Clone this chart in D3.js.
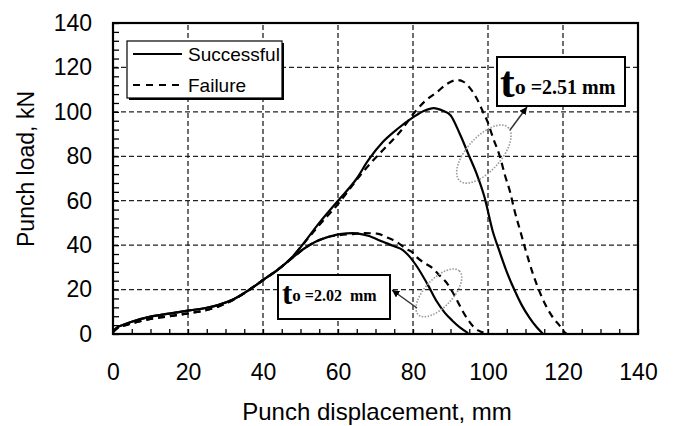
<!DOCTYPE html>
<html>
<head>
<meta charset="utf-8">
<script src="https://cdn.jsdelivr.net/npm/d3@7"></script>
<style>
  body { margin: 0; background: #fff; }
  svg { display: block; }
  .tick text { font-family: "Liberation Sans", Arial, sans-serif; }
</style>
</head>
<body>
<div id="chart"></div>
<script>
var width = 675;
var height = 426;

// tick labels
var xTicks = [0, 20, 40, 60, 80, 100, 120, 140];
var yTicks = [0, 20, 40, 60, 80, 100, 120, 140];

// series: [punch displacement (mm), punch load (kN)]
var success251 = [
  [0, 1], [1, 2.8], [3, 4.3], [5, 5.5], [10, 7.8], [15, 9.2], [20, 10.5], [25, 11.8],
  [28, 13], [32, 15.5], [36, 19.5], [40, 24.3], [44, 29], [48, 35], [50, 39], [55, 50],
  [60, 60], [65, 70], [68, 78], [72, 86.5], [76, 92.5], [80, 97.5], [83, 100.5],
  [85.5, 101.7], [88, 100.5], [90, 98.5], [92.5, 90], [95, 80], [97, 72], [99, 62],
  [101.3, 46], [103, 37.5], [105, 28], [107, 20], [109, 13], [111, 7.5], [113, 3], [114.7, 0]
];
var failure251 = [
  [0, 0.8], [1, 2.4], [3, 3.8], [5, 4.8], [10, 6.8], [15, 8], [20, 9.3], [25, 10.8],
  [28, 12.3], [32, 15.3], [36, 19.5], [40, 24.3], [44, 29], [48, 35], [50, 39], [55, 49],
  [60, 58.5], [63, 65], [66, 71.6], [69, 77.5], [72, 82.8], [76.5, 90.9], [80.5, 99.9],
  [83, 104.5], [86.4, 108.9], [89, 112.5], [91.7, 114.3], [93.5, 113.5], [95.2, 110.7],
  [97, 106], [98.4, 101], [100, 95], [101.3, 88.5], [103.2, 79.7], [104.5, 71.6],
  [105.9, 63.9], [107, 56], [108.5, 47], [110, 38], [112, 27], [114, 18], [116, 11],
  [117.5, 7], [119, 4], [120.3, 1], [121, 0]
];
var success202 = [
  [0, 1], [1, 2.8], [3, 4.3], [5, 5.5], [10, 7.8], [15, 9.2], [20, 10.5], [25, 11.8],
  [28, 13], [32, 15.5], [36, 19.5], [40, 24.3], [44, 29], [48, 34.5], [51, 38.5],
  [54, 41.5], [57, 43.5], [60.5, 45], [64, 45.4], [68, 44.2], [72, 41.5], [75, 39.5],
  [77.3, 37.8], [79.2, 34.6], [81, 30.5], [84, 22], [86.4, 14.5], [88.5, 9.5],
  [90.5, 6], [92.5, 3], [94.7, 0.4]
];
var failure202 = [
  [0, 0.8], [1, 2.4], [3, 3.8], [5, 4.8], [10, 6.8], [15, 8], [20, 9.3], [25, 10.8],
  [28, 12.3], [32, 15.3], [36, 19.5], [40, 24.3], [44, 29], [48, 34.5], [51, 38.5],
  [54, 41.5], [57, 43.5], [60.5, 44.5], [64, 45], [67, 45.4], [70.4, 45.2], [73, 43.5],
  [75.7, 41.4], [78, 38.5], [80, 36.5], [81, 34.6], [83, 32], [85.3, 29.5], [87, 26.5],
  [89, 23], [90.5, 19], [91.7, 15.3], [93, 11], [94.7, 6.3], [96, 3.5], [97.5, 1.5],
  [99.7, 0.3]
];

var legendLabels = ["Successful", "Failure"];

var margin = { top: 23, right: 37, bottom: 92, left: 113 };

var svg = d3.select("#chart")
  .append("svg")
  .attr("width", width)
  .attr("height", height);

var x = d3.scaleLinear().domain([0, 140]).range([margin.left, width - margin.right]);
var y = d3.scaleLinear().domain([0, 140]).range([height - margin.bottom, margin.top]);

// grid lines
var grid = svg.append("g")
  .attr("stroke", "#222")
  .attr("stroke-width", 1.3)
  .attr("stroke-dasharray", "5,3");

grid.selectAll(".vgrid")
  .data(xTicks.slice(1, -1))
  .enter().append("line")
  .attr("x1", d => x(d)).attr("x2", d => x(d))
  .attr("y1", y(0)).attr("y2", y(140));

grid.selectAll(".hgrid")
  .data(yTicks.slice(1, -1))
  .enter().append("line")
  .attr("y1", d => y(d)).attr("y2", d => y(d))
  .attr("x1", x(0)).attr("x2", x(140));

// minor ticks (inside)
svg.append("g")
  .attr("transform", "translate(0," + y(0) + ")")
  .call(d3.axisBottom(x).tickValues(d3.range(0, 141, 5)).tickSize(-5).tickFormat(""))
  .call(g => g.select(".domain").remove())
  .selectAll("line").attr("stroke", "#000").attr("stroke-width", 1.3);

svg.append("g")
  .attr("transform", "translate(" + x(0) + ",0)")
  .call(d3.axisLeft(y).tickValues(d3.range(0, 141, 4)).tickSize(-6).tickFormat(""))
  .call(g => g.select(".domain").remove())
  .selectAll("line").attr("stroke", "#000").attr("stroke-width", 1.3);

// tick labels
var xAxis = svg.append("g")
  .attr("transform", "translate(0," + y(0) + ")")
  .call(d3.axisBottom(x).tickValues(xTicks).tickSize(0).tickPadding(30));
xAxis.select(".domain").remove();
xAxis.selectAll("text").attr("font-size", 23).attr("fill", "#000");

var yAxis = svg.append("g")
  .attr("transform", "translate(" + x(0) + ",0)")
  .call(d3.axisLeft(y).tickValues(yTicks).tickSize(0).tickPadding(21));
yAxis.select(".domain").remove();
yAxis.selectAll("text").attr("font-size", 23).attr("fill", "#000");

// axis titles
svg.append("text")
  .attr("x", 377)
  .attr("y", 420)
  .attr("text-anchor", "middle")
  .attr("font-family", "Liberation Sans, Arial, sans-serif")
  .attr("font-size", 24)
  .text("Punch displacement, mm");

svg.append("text")
  .attr("transform", "translate(34,169) rotate(-90)")
  .attr("text-anchor", "middle")
  .attr("font-family", "Liberation Sans, Arial, sans-serif")
  .attr("font-size", 23)
  .text("Punch load, kN");

// curves
var line = d3.line()
  .x(d => x(d[0]))
  .y(d => y(d[1]))
  .curve(d3.curveMonotoneX);

var series = [
  { data: success251, dash: null },
  { data: failure251, dash: "7,5" },
  { data: success202, dash: null },
  { data: failure202, dash: "7,5" }
];

svg.append("g").selectAll("path")
  .data(series)
  .enter().append("path")
  .attr("d", d => line(d.data))
  .attr("fill", "none")
  .attr("stroke", "#000")
  .attr("stroke-width", 2.2)
  .attr("stroke-dasharray", d => d.dash);

// frame
svg.append("rect")
  .attr("x", x(0)).attr("y", y(140))
  .attr("width", x(140) - x(0)).attr("height", y(0) - y(140))
  .attr("fill", "none")
  .attr("stroke", "#000")
  .attr("stroke-width", 2.2);

// legend
var legend = svg.append("g");
legend.append("rect")
  .attr("x", 129).attr("y", 43).attr("width", 155).attr("height", 57)
  .attr("fill", "#000");
legend.append("rect")
  .attr("x", 127).attr("y", 41).attr("width", 155).attr("height", 57)
  .attr("fill", "#fff").attr("stroke", "#000").attr("stroke-width", 1.2);

legend.selectAll(".lg-line")
  .data(legendLabels)
  .enter().append("line")
  .attr("x1", 133).attr("x2", 182)
  .attr("y1", (d, i) => 54 + i * 31).attr("y2", (d, i) => 54 + i * 31)
  .attr("stroke", "#000").attr("stroke-width", 2.2)
  .attr("stroke-dasharray", (d, i) => i ? "7,6" : null);

legend.selectAll(".lg-text")
  .data(legendLabels)
  .enter().append("text")
  .attr("x", 188)
  .attr("y", (d, i) => 61 + i * 31)
  .attr("font-family", "Liberation Sans, Arial, sans-serif")
  .attr("font-size", 19)
  .text(d => d);

// annotations
svg.append("defs").append("marker")
  .attr("id", "ah")
  .attr("viewBox", "0 0 10 10")
  .attr("refX", 10).attr("refY", 5)
  .attr("markerWidth", 5).attr("markerHeight", 5)
  .attr("orient", "auto")
  .append("path").attr("d", "M0,0L10,5L0,10z").attr("fill", "#000");

function ellipse(cx, cy, rx, ry, rot) {
  svg.append("ellipse")
    .attr("cx", 0).attr("cy", 0).attr("rx", rx).attr("ry", ry)
    .attr("transform", "translate(" + x(cx) + "," + y(cy) + ") rotate(" + rot + ")")
    .attr("fill", "none")
    .attr("stroke", "#999")
    .attr("stroke-width", 1.6)
    .attr("stroke-dasharray", "1.5,1.5");
}

function arrow(x1, y1, x2, y2) {
  svg.append("line")
    .attr("x1", x1).attr("y1", y1).attr("x2", x2).attr("y2", y2)
    .attr("stroke", "#333").attr("stroke-width", 1.5)
    .attr("marker-end", "url(#ah)");
}

function label(bx, by, bw, bh, tSize, oSize, txtSize, tx, base, txt) {
  svg.append("rect")
    .attr("x", bx).attr("y", by).attr("width", bw).attr("height", bh)
    .attr("fill", "#fff").attr("stroke", "#000").attr("stroke-width", 2);
  var t = svg.append("text")
    .attr("x", tx).attr("y", base)
    .attr("font-family", "Liberation Serif, Times New Roman, serif")
    .attr("font-weight", "bold")
    .style("white-space", "pre");
  t.append("tspan").attr("font-size", tSize).text("t");
  t.append("tspan").attr("font-size", oSize).attr("dy", -3).text("o");
  t.append("tspan").attr("font-size", txtSize).text(txt);
}

ellipse(98.9, 81, 36, 17, -48);
ellipse(86.9, 18.5, 30, 14, -47);

arrow(510, 130, 527, 107);
arrow(417, 308, 392, 290);

label(497, 57, 128, 49, 44, 22, 20, 500, 97, " =2.51 mm");
label(278, 275, 112, 44, 31, 17, 16, 282, 304, " =2.02  mm");
</script>
</body>
</html>
